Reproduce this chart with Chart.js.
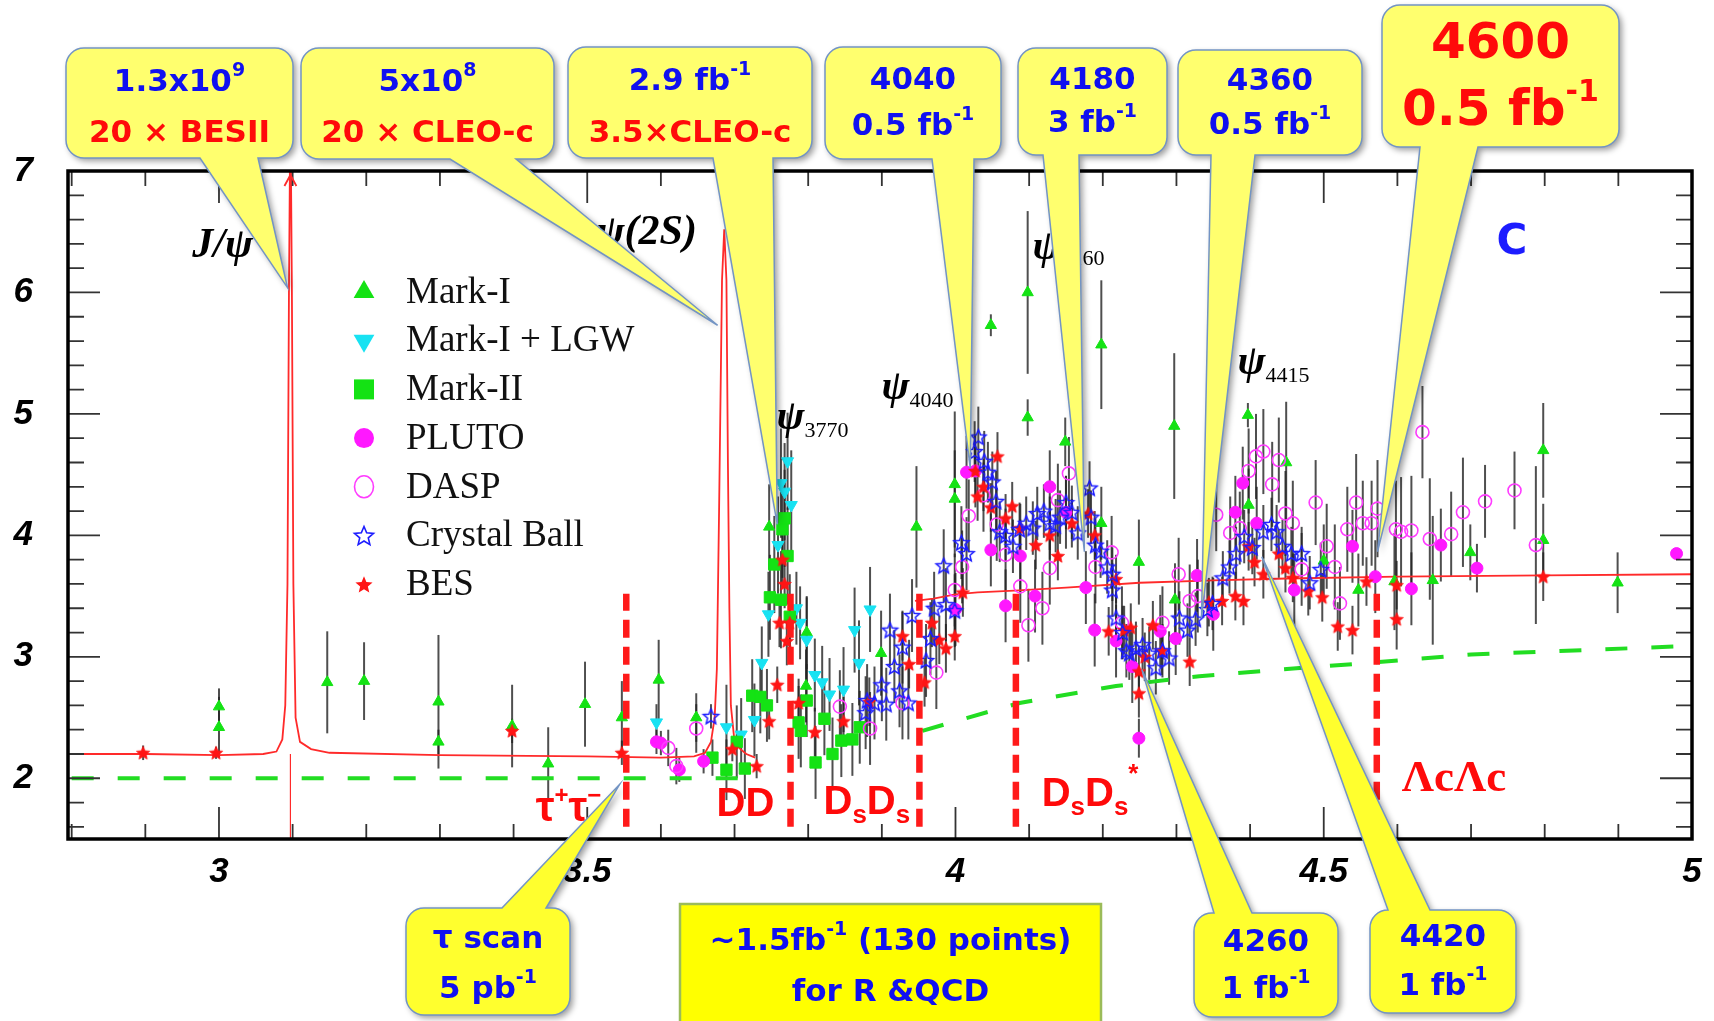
<!DOCTYPE html>
<html>
<head>
<meta charset="utf-8">
<title>R value scan</title>
<script src="https://cdn.jsdelivr.net/npm/chart.js@4.4.1/dist/chart.umd.min.js"></script>
<style>
  html, body { margin: 0; padding: 0; background: #fff; }
  #wrap { width: 1714px; height: 1021px; }
</style>
</head>
<body>
<div id="wrap"><canvas id="chart" width="1714" height="1021"></canvas></div>
<script>
// ========== AXES ==========
const xTickLabels = [3, 3.5, 4, 4.5, 5];
const yTickLabels = [2, 3, 4, 5, 6, 7];
const X_MIN = 2.795, X_MAX = 5.0, Y_MIN = 1.5, Y_MAX = 7.0;

// ========== DATA ==========
const markIx = [3.0, 3.0, 3.147, 3.197, 3.298, 3.298, 3.398, 3.447, 3.497, 3.547,
  3.597, 3.648, 3.747, 3.798, 3.797, 3.899, 3.947, 3.999, 3.999, 4.048,
  4.098, 4.098, 4.149, 4.198, 4.198, 4.249, 4.297, 4.298, 4.397, 4.398,
  4.449, 4.5, 4.547, 4.596, 4.648, 4.699, 4.798, 4.798, 4.899];
const markIy = [2.59, 2.42, 2.79, 2.80, 2.63, 2.30, 2.43, 2.12, 2.61, 2.50,
  2.81, 2.50, 4.07, 3.20, 2.76, 3.03, 4.07, 4.42, 4.30, 5.73,
  6.00, 4.97, 4.77, 5.57, 4.10, 3.78, 4.90, 3.47, 4.99, 4.25,
  4.60, 3.79, 3.55, 3.62, 3.63, 3.86, 4.70, 3.96, 3.61];
const markIerr = [0.15, 0.25, 0.42, 0.32, 0.55, 0.10, 0.34, 0.30, 0.35, 0.30,
  0.33, 0.20, 0.35, 0.30, 0.30, 0.35, 0.50, 0.60, 0.40, 0.09,
  0.67, 0.15, 0.20, 0.53, 0.30, 0.35, 0.60, 0.30, 0.10, 0.30,
  0.50, 0.30, 0.30, 0.40, 0.53, 0.23, 0.39, 0.30, 0.25];

const lgwX = [3.594, 3.689, 3.709, 3.727, 3.737, 3.746, 3.759, 3.763, 3.768, 3.772,
  3.777, 3.784, 3.789, 3.798, 3.809, 3.819, 3.829, 3.848, 3.863, 3.869, 3.884];
const lgwY = [2.46, 2.42, 2.36, 2.48, 2.95, 3.35, 3.92, 4.43, 4.36, 4.61,
  4.25, 3.40, 3.28, 3.14, 2.85, 2.79, 2.69, 2.73, 3.22, 2.95, 3.39];
const lgwErr = [0.15, 0.35, 0.30, 0.30, 0.30, 0.35, 0.40, 0.45, 0.40, 0.40,
  0.45, 0.30, 0.30, 0.35, 0.30, 0.30, 0.30, 0.35, 0.35, 0.35, 0.35];

const mk2X = [3.670, 3.689, 3.703, 3.714, 3.724, 3.735, 3.744, 3.748, 3.754, 3.763,
  3.765, 3.768, 3.772, 3.775, 3.787, 3.790, 3.798, 3.810, 3.822, 3.833,
  3.845, 3.860, 3.870];
const mk2Y = [2.17, 2.07, 2.30, 2.08, 2.68, 2.67, 2.60, 3.49, 3.76, 3.47,
  4.05, 4.14, 3.83, 3.33, 2.46, 2.39, 2.64, 2.13, 2.49, 2.20,
  2.31, 2.32, 2.42];
const mk2Err = [0.15, 0.25, 0.30, 0.25, 0.30, 0.30, 0.30, 0.35, 0.40, 0.40,
  0.40, 0.40, 0.40, 0.35, 0.30, 0.30, 0.30, 0.30, 0.30, 0.30,
  0.30, 0.30, 0.30];

const plutoX = [3.594, 3.600, 3.625, 3.658, 4.000, 4.015, 4.027, 4.048, 4.068, 4.088,
  4.108, 4.128, 4.150, 4.177, 4.189, 4.218, 4.240, 4.249, 4.278, 4.299,
  4.328, 4.350, 4.380, 4.390, 4.409, 4.460, 4.539, 4.570, 4.619, 4.659,
  4.708, 4.979];
const plutoY = [2.30, 2.29, 2.07, 2.14, 3.39, 4.52, 4.53, 3.88, 3.42, 3.83,
  3.50, 4.40, 4.19, 3.57, 3.22, 3.13, 2.92, 2.33, 3.21, 3.15,
  3.67, 3.35, 4.19, 4.43, 4.10, 3.55, 3.91, 3.66, 3.56, 3.92,
  3.73, 3.85];
const plutoErr = [0.10, 0.10, 0.10, 0.10, 0.30, 0.30, 0.30, 0.30, 0.30, 0.30,
  0.30, 0.30, 0.30, 0.30, 0.30, 0.30, 0.30, 0.16, 0.30, 0.30,
  0.30, 0.30, 0.30, 0.30, 0.30, 0.30, 0.30, 0.30, 0.30, 0.30,
  0.20, 0.00];

const daspX = [3.610, 3.621, 3.648, 3.843, 3.884, 3.928, 3.974, 3.999, 4.009, 4.018,
  4.038, 4.056, 4.068, 4.088, 4.099, 4.118, 4.128, 4.139, 4.154, 4.190,
  4.212, 4.226, 4.281, 4.303, 4.318, 4.329, 4.354, 4.373, 4.386, 4.398,
  4.408, 4.418, 4.430, 4.439, 4.448, 4.458, 4.470, 4.489, 4.504, 4.515,
  4.522, 4.532, 4.544, 4.553, 4.565, 4.573, 4.598, 4.605, 4.619, 4.634,
  4.644, 4.673, 4.689, 4.719, 4.759, 4.788];
const daspY = [2.25, 2.10, 2.41, 2.59, 2.41, 2.62, 2.87, 3.55, 3.74, 4.16,
  4.33, 4.09, 3.84, 3.58, 3.26, 3.40, 3.73, 4.29, 4.51, 3.74,
  3.86, 3.28, 3.28, 3.68, 3.46, 3.50, 4.17, 4.02, 4.06, 4.53,
  4.65, 4.69, 4.42, 4.62, 4.18, 4.10, 3.72, 4.27, 3.91, 3.74,
  3.44, 4.05, 4.27, 4.10, 4.10, 4.22, 4.05, 4.03, 4.04, 4.85,
  3.97, 4.01, 4.19, 4.28, 4.37, 3.92];
const daspErr = [0.15, 0.15, 0.20, 0.30, 0.30, 0.30, 0.30, 0.30, 0.30, 0.30,
  0.30, 0.30, 0.30, 0.30, 0.30, 0.30, 0.30, 0.30, 0.30, 0.30,
  0.30, 0.30, 0.30, 0.30, 0.30, 0.30, 0.30, 0.30, 0.30, 0.35,
  0.35, 0.35, 0.35, 0.35, 0.35, 0.35, 0.30, 0.35, 0.35, 0.35,
  0.30, 0.35, 0.40, 0.35, 0.35, 0.40, 0.40, 0.45, 0.45, 0.38,
  0.50, 0.35, 0.45, 0.30, 0.32, 0.65];

const cbX = [3.668, 3.878, 3.880, 3.890, 3.900, 3.906, 3.911, 3.917, 3.924, 3.928,
  3.936, 3.941, 3.960, 3.966, 3.971, 3.984, 3.987, 3.999, 4.008, 4.015,
  4.026, 4.031, 4.039, 4.044, 4.050, 4.055, 4.060, 4.068, 4.078, 4.087,
  4.096, 4.105, 4.111, 4.120, 4.128, 4.136, 4.142, 4.150, 4.158, 4.166,
  4.182, 4.184, 4.190, 4.197, 4.206, 4.213, 4.213, 4.218, 4.227, 4.232,
  4.236, 4.245, 4.254, 4.263, 4.272, 4.281, 4.290, 4.304, 4.315, 4.326,
  4.342, 4.349, 4.363, 4.372, 4.381, 4.392, 4.403, 4.418, 4.429, 4.436,
  4.444, 4.456, 4.470, 4.481, 4.496];
const cbY = [2.51, 2.54, 2.64, 2.62, 2.77, 2.61, 3.22, 2.92, 2.72, 3.08,
  2.62, 3.34, 2.97, 3.15, 3.40, 3.75, 3.43, 3.38, 3.94, 3.85,
  4.69, 4.81, 4.61, 4.52, 4.44, 4.28, 4.03, 4.00, 3.91, 4.05,
  4.10, 4.06, 4.18, 4.20, 4.10, 4.08, 4.15, 4.27, 4.19, 4.02,
  4.39, 4.15, 3.92, 3.87, 3.74, 3.68, 3.55, 3.32, 3.20, 3.05,
  3.03, 3.07, 3.10, 3.03, 2.91, 3.05, 2.99, 3.32, 3.22, 3.31,
  3.39, 3.44, 3.65, 3.74, 3.85, 3.99, 3.90, 4.03, 4.09, 4.03,
  3.91, 3.85, 3.85, 3.61, 3.72];
const cbErr = [0.10, 0.30, 0.30, 0.30, 0.30, 0.30, 0.30, 0.30, 0.30, 0.30,
  0.30, 0.30, 0.30, 0.30, 0.30, 0.30, 0.30, 0.30, 0.30, 0.30,
  0.25, 0.25, 0.25, 0.25, 0.25, 0.25, 0.25, 0.22, 0.22, 0.22,
  0.22, 0.22, 0.22, 0.22, 0.22, 0.22, 0.22, 0.22, 0.22, 0.22,
  0.22, 0.22, 0.22, 0.22, 0.22, 0.22, 0.22, 0.22, 0.22, 0.22,
  0.22, 0.22, 0.22, 0.22, 0.22, 0.22, 0.22, 0.22, 0.22, 0.22,
  0.22, 0.22, 0.22, 0.22, 0.22, 0.22, 0.22, 0.22, 0.22, 0.22,
  0.22, 0.22, 0.22, 0.22, 0.22];

const besX = [2.897, 2.996, 3.398, 3.547, 3.697, 3.730, 3.747, 3.758, 3.761, 3.765,
  3.768, 3.771, 3.775, 3.787, 3.809, 3.848, 3.883, 3.928, 3.937, 3.958,
  3.968, 3.978, 3.987, 3.999, 4.010, 4.027, 4.030, 4.038, 4.048, 4.057,
  4.068, 4.077, 4.088, 4.109, 4.128, 4.139, 4.158, 4.180, 4.189, 4.208,
  4.218, 4.229, 4.238, 4.249, 4.249, 4.257, 4.268, 4.280, 4.318, 4.344,
  4.362, 4.380, 4.391, 4.398, 4.406, 4.418, 4.439, 4.448, 4.458, 4.479,
  4.498, 4.519, 4.539, 4.558, 4.599, 4.599, 4.798];
const besY = [2.21, 2.21, 2.39, 2.21, 2.24, 2.10, 2.47, 2.77, 3.28, 3.80,
  3.60, 3.13, 3.28, 2.62, 2.38, 2.47, 2.63, 3.17, 2.94, 2.79,
  3.28, 3.14, 3.07, 3.17, 3.53, 4.53, 4.32, 4.40, 4.23, 4.65,
  4.14, 4.24, 4.06, 3.92, 4.00, 3.83, 4.10, 4.18, 4.00, 3.21,
  3.64, 3.22, 3.24, 2.88, 2.70, 3.00, 3.26, 3.05, 2.96, 3.45,
  3.46, 3.50, 3.46, 3.91, 3.78, 3.68, 3.85, 3.73, 3.65, 3.54,
  3.49, 3.25, 3.22, 3.62, 3.59, 3.31, 3.66];
const besErr = [0.06, 0.05, 0.10, 0.10, 0.10, 0.10, 0.15, 0.15, 0.20, 0.20,
  0.20, 0.20, 0.20, 0.20, 0.20, 0.20, 0.20, 0.20, 0.20, 0.20,
  0.20, 0.20, 0.20, 0.20, 0.20, 0.20, 0.20, 0.20, 0.20, 0.20,
  0.20, 0.20, 0.20, 0.20, 0.20, 0.20, 0.20, 0.20, 0.20, 0.20,
  0.20, 0.20, 0.20, 0.20, 0.20, 0.20, 0.20, 0.20, 0.20, 0.20,
  0.20, 0.20, 0.20, 0.20, 0.20, 0.20, 0.20, 0.20, 0.20, 0.20,
  0.20, 0.20, 0.20, 0.20, 0.20, 0.25, 0.20];

// fitted R curve with the J/psi and psi(2S) peaks
const rLowX = [2.80, 2.90, 3.00, 3.06, 3.078, 3.086, 3.090, 3.093, 3.095, 3.097,
  3.099, 3.101, 3.104, 3.110, 3.125, 3.15, 3.30, 3.50, 3.60, 3.645,
  3.660, 3.668, 3.673, 3.676, 3.679, 3.683, 3.686, 3.689, 3.691, 3.693,
  3.695, 3.700, 3.708, 3.716, 3.728];
const rLowY = [2.20, 2.20, 2.19, 2.20, 2.22, 2.32, 2.60, 3.60, 6.00, 7.60,
  6.00, 3.60, 2.50, 2.30, 2.24, 2.21, 2.19, 2.18, 2.17, 2.18,
  2.21, 2.30, 2.50, 2.90, 4.20, 6.10, 6.52, 6.10, 4.60, 3.40,
  2.60, 2.30, 2.24, 2.20, 2.17];
const rHighX = [3.945, 3.97, 4.00, 4.03, 4.08, 4.15, 4.25, 4.35, 4.45, 4.60, 4.80, 5.00];
const rHighY = [3.46, 3.48, 3.515, 3.53, 3.545, 3.57, 3.61, 3.63, 3.645, 3.66, 3.67, 3.68];
const jpsiX = 3.097;

// pQCD expectation (green dashed)
const qcdLowX = [2.80, 3.72];
const qcdLowY = [2.00, 2.00];
const qcdHighX = [3.955, 4.00, 4.087, 4.218, 4.331, 4.45, 4.539, 4.70, 5.00];
const qcdHighY = [2.39, 2.47, 2.62, 2.76, 2.84, 2.90, 2.94, 3.02, 3.09];

// open-charm / tau thresholds (red dashed)
const thresholdX = [3.553, 3.776, 3.951, 4.082, 4.572];
const thresholdTop = 3.52, thresholdBottom = 1.6;

// ========== STYLE ==========
const GREEN = '#14e214', CYAN = '#18e2f2', MAGENTA = '#ff18ff', BLUE = '#1c1cff', RED = '#ff1414';
const TXT_BLUE = '#1010f0', TXT_RED = '#ff0a0a';
const ERR_COLOR = 'rgba(35,35,35,0.8)';

function pts(xs, ys) {
  return xs.map((x, i) => ({ x: x, y: ys[i] }));
}

function starPath(g, cx, cy, R, k) {
  g.beginPath();
  for (let i = 0; i < 10; i++) {
    const r = i % 2 ? R * k : R;
    const a = -Math.PI / 2 + i * Math.PI / 5;
    g.lineTo(cx + r * Math.cos(a), cy + r * Math.sin(a));
  }
  g.closePath();
}

function starCanvas(R, fill, stroke, lw) {
  const s = Math.ceil(2 * R + 2 * lw + 2);
  const c = document.createElement('canvas');
  c.width = s; c.height = s;
  const g = c.getContext('2d');
  starPath(g, s / 2, s / 2 + R * 0.08, R, 0.45);
  if (fill) { g.fillStyle = fill; g.fill(); }
  if (stroke) { g.strokeStyle = stroke; g.lineWidth = lw; g.stroke(); }
  return c;
}

const openStar = starCanvas(8, null, BLUE, 1.5);
const redStar = starCanvas(7, RED, RED, 0.8);

// ========== DATASETS ==========
function lineSet(xs, ys, color, width, dash, order) {
  return {
    data: pts(xs, ys), showLine: true, pointRadius: 0, borderColor: color,
    borderWidth: width, borderDash: dash || [], tension: 0, order: order
  };
}

const datasets = [];
thresholdX.forEach(x => {
  datasets.push(lineSet([x, x], [thresholdBottom, thresholdTop], '#ff1a1a', 6.5, [18, 9], 0));
});
datasets.push(lineSet(rLowX, rLowY, '#ff2a2a', 1.8, null, 12));
datasets.push(lineSet(rHighX, rHighY, '#ff2a2a', 1.8, null, 12));
datasets.push(lineSet([jpsiX, jpsiX], [Y_MIN, 2.2], '#ff2a2a', 1.2, null, 12));
datasets.push(lineSet(qcdLowX, qcdLowY, '#22dd22', 4, [22, 24], 11));
datasets.push(lineSet(qcdHighX, qcdHighY, '#22dd22', 4, [22, 24], 11));

const series = [
  { label: 'Mark-I', marker: 'tri', data: pts(markIx, markIy), errs: markIerr,
    pointStyle: 'triangle', pointRadius: 6.5, backgroundColor: GREEN, borderColor: GREEN, borderWidth: 1, order: 6 },
  { label: 'Mark-I + LGW', marker: 'triDown', data: pts(lgwX, lgwY), errs: lgwErr,
    pointStyle: 'triangle', rotation: 180, pointRadius: 7, backgroundColor: CYAN, borderColor: CYAN, borderWidth: 1, order: 5 },
  { label: 'Mark-II', marker: 'square', data: pts(mk2X, mk2Y), errs: mk2Err,
    pointStyle: 'rect', pointRadius: 8, backgroundColor: GREEN, borderColor: GREEN, borderWidth: 1, order: 4 },
  { label: 'PLUTO', marker: 'dot', data: pts(plutoX, plutoY), errs: plutoErr,
    pointStyle: 'circle', pointRadius: 6, backgroundColor: MAGENTA, borderColor: MAGENTA, borderWidth: 1, order: 3 },
  { label: 'DASP', marker: 'ring', data: pts(daspX, daspY), errs: daspErr,
    pointStyle: 'circle', pointRadius: 6.5, backgroundColor: 'rgba(255,255,255,0)', borderColor: '#ff3cff', borderWidth: 1.6, order: 2 },
  { label: 'Crystal Ball', marker: 'starOpen', data: pts(cbX, cbY), errs: cbErr,
    pointStyle: openStar, pointRadius: 8, order: 1 },
  { label: 'BES', marker: 'starFilled', data: pts(besX, besY), errs: besErr,
    pointStyle: redStar, pointRadius: 7, order: 1 }
];
series.forEach(s => datasets.push(s));

// ========== ANNOTATIONS ==========
const PSI = 'italic bold 42px "Liberation Serif"';
const SUB = '22px "Liberation Serif"';
const RL = n => 'bold ' + n + 'px "Liberation Sans"';

const plotNotes = [
  { x: 3.005, y: 6.29, align: 'center', color: '#000', runs: [['J/ψ', PSI, 0]] },
  { x: 3.5126, y: 6.40, align: 'left', color: '#000', runs: [['ψ(2S)', PSI, 0]] },
  { x: 3.757, y: 4.876, align: 'left', color: '#000', runs: [['ψ', PSI, 0], ['3770', SUB, 8]] },
  { x: 3.8995, y: 5.122, align: 'left', color: '#000', runs: [['ψ', PSI, 0], ['4040', SUB, 8]] },
  { x: 4.1045, y: 6.273, align: 'left', color: '#000', runs: [['ψ', PSI, 0], ['4160', SUB, 6]] },
  { x: 4.3829, y: 5.328, align: 'left', color: '#000', runs: [['ψ', PSI, 0], ['4415', SUB, 8]] },
  { x: 4.7345, y: 6.32, align: 'left', color: BLUE, runs: [['C', 'bold 42px "DejaVu Sans"', 0]] },
  { x: 3.430, y: 1.647, align: 'left', color: TXT_RED,
    runs: [['τ', RL(42), 0], ['+', RL(24), -18], ['τ', RL(42), 0], ['−', RL(24), -18]] },
  { x: 3.6755, y: 1.688, align: 'left', color: TXT_RED, runs: [['DD', RL(40), 0]] },
  { x: 3.8208, y: 1.704, align: 'left', color: TXT_RED,
    runs: [['D', RL(40), 0], ['s', RL(26), 9], ['D', RL(40), 0], ['s', RL(26), 9]] },
  { x: 4.117, y: 1.77, align: 'left', color: TXT_RED,
    runs: [['D', RL(40), 0], ['s', RL(26), 9], ['D', RL(40), 0], ['s', RL(26), 9], ['*', RL(26), -24]] },
  { x: 4.606, y: 1.893, align: 'left', color: TXT_RED, runs: [['ΛcΛc', 'bold 45px "Liberation Serif"', 0]] }
];

// callout boxes: pixel boxes, pointer tips in data units
const callouts = [
  { box: [66, 48, 293, 158], side: 'bottom', base: [200, 258], tip: [3.093, 6.04], size: 31,
    lines: [['1.3x10^9', TXT_BLUE, 83], ['20 × BESII', TXT_RED, 134]] },
  { box: [301, 48, 554, 159], side: 'bottom', base: [450, 516], tip: [3.677, 5.73], size: 31,
    lines: [['5x10^8', TXT_BLUE, 83], ['20 × CLEO-c', TXT_RED, 134]] },
  { box: [568, 47, 812, 158], side: 'bottom', base: [713, 773], tip: [3.758, 4.09], size: 31,
    lines: [['2.9 fb^-1', TXT_BLUE, 82], ['3.5×CLEO-c', TXT_RED, 134]] },
  { box: [825, 47, 1001, 159], side: 'bottom', base: [932, 974], tip: [4.02, 4.555], size: 31,
    lines: [['4040', TXT_BLUE, 81], ['0.5 fb^-1', TXT_BLUE, 127]] },
  { box: [1018, 48, 1167, 155], side: 'bottom', base: [1043, 1079], tip: [4.175, 3.865], size: 31,
    lines: [['4180', TXT_BLUE, 81], ['3 fb^-1', TXT_BLUE, 124]] },
  { box: [1178, 50, 1362, 155], side: 'bottom', base: [1211, 1255], tip: [4.334, 3.32], size: 31,
    lines: [['4360', TXT_BLUE, 82], ['0.5 fb^-1', TXT_BLUE, 126]] },
  { box: [1382, 5, 1619, 147], side: 'bottom', base: [1420, 1478], tip: [4.573, 3.865], size: 50,
    lines: [['4600', TXT_RED, 45], ['0.5 fb^-1', TXT_RED, 112]] },
  { box: [406, 908, 570, 1015], side: 'top', base: [502, 546], tip: [3.544, 1.95], size: 31, bright: true,
    lines: [['τ scan', TXT_BLUE, 940], ['5 pb^-1', TXT_BLUE, 990]] },
  { box: [1194, 913, 1338, 1017], side: 'top', base: [1214, 1252], tip: [4.253, 2.896], size: 31, bright: true,
    lines: [['4260', TXT_BLUE, 943], ['1 fb^-1', TXT_BLUE, 990]] },
  { box: [1370, 910, 1516, 1013], side: 'top', base: [1388, 1430], tip: [4.416, 3.824], size: 31, bright: true,
    lines: [['4420', TXT_BLUE, 938], ['1 fb^-1', TXT_BLUE, 987]] }
];
const scanBox = { box: [680, 904, 1101, 1030], size: 31,
  lines: [['~1.5fb^-1 (130 points)', TXT_BLUE, 942], ['for R &QCD', TXT_BLUE, 993]] };

// ========== DRAWING HELPERS ==========
function parseRuns(s, size, color) {
  const main = 'bold ' + size + 'px "DejaVu Sans"';
  const sup = 'bold ' + Math.round(size * 0.6) + 'px "DejaVu Sans"';
  const out = [];
  const re = /\^(\S+)/g;
  let last = 0, m;
  while ((m = re.exec(s))) {
    if (m.index > last) out.push([s.slice(last, m.index), main, 0]);
    out.push([m[1], sup, -Math.round(size * 0.38)]);
    last = re.lastIndex;
  }
  if (last < s.length) out.push([s.slice(last), main, 0]);
  return out;
}

function drawRuns(ctx, runs, x, y, align, color) {
  let total = 0;
  runs.forEach(r => { ctx.font = r[1]; total += ctx.measureText(r[0]).width; });
  let cur = align === 'center' ? x - total / 2 : x;
  ctx.fillStyle = color;
  ctx.textAlign = 'left';
  runs.forEach(r => {
    ctx.font = r[1];
    ctx.fillText(r[0], cur, y + r[2]);
    cur += ctx.measureText(r[0]).width;
  });
}

function calloutPath(ctx, c, tip) {
  const [x0, y0, x1, y1] = c.box;
  const r = 18;
  ctx.beginPath();
  ctx.moveTo(x0 + r, y0);
  if (c.side === 'top') {
    ctx.lineTo(c.base[0], y0); ctx.lineTo(tip.x, tip.y); ctx.lineTo(c.base[1], y0);
  }
  ctx.lineTo(x1 - r, y0);
  ctx.arcTo(x1, y0, x1, y0 + r, r);
  ctx.lineTo(x1, y1 - r);
  ctx.arcTo(x1, y1, x1 - r, y1, r);
  if (c.side === 'bottom') {
    ctx.lineTo(c.base[1], y1); ctx.lineTo(tip.x, tip.y); ctx.lineTo(c.base[0], y1);
  }
  ctx.lineTo(x0 + r, y1);
  ctx.arcTo(x0, y1, x0, y1 - r, r);
  ctx.lineTo(x0, y0 + r);
  ctx.arcTo(x0, y0, x0 + r, y0, r);
  ctx.closePath();
}

function drawMarker(ctx, kind, x, y) {
  ctx.save();
  ctx.beginPath();
  if (kind === 'tri' || kind === 'triDown') {
    const R = 12, s = kind === 'tri' ? 1 : -1;
    ctx.moveTo(x, y - s * R);
    ctx.lineTo(x + R * 0.866, y + s * R * 0.5);
    ctx.lineTo(x - R * 0.866, y + s * R * 0.5);
    ctx.closePath();
    ctx.fillStyle = kind === 'tri' ? GREEN : CYAN;
    ctx.fill();
  } else if (kind === 'square') {
    ctx.fillStyle = GREEN;
    ctx.fillRect(x - 10, y - 10, 20, 20);
  } else if (kind === 'dot') {
    ctx.arc(x, y, 10, 0, Math.PI * 2);
    ctx.fillStyle = MAGENTA;
    ctx.fill();
  } else if (kind === 'ring') {
    ctx.ellipse(x, y, 9.5, 11, 0, 0, Math.PI * 2);
    ctx.strokeStyle = '#ff3cff';
    ctx.lineWidth = 1.6;
    ctx.stroke();
  } else if (kind === 'starOpen') {
    starPath(ctx, x, y + 1, 10, 0.45);
    ctx.strokeStyle = BLUE; ctx.lineWidth = 1.6; ctx.stroke();
  } else if (kind === 'starFilled') {
    starPath(ctx, x, y + 1, 9, 0.45);
    ctx.fillStyle = RED; ctx.fill();
  }
  ctx.restore();
}

// ========== PLUGIN ==========
const decorPlugin = {
  id: 'decor',
  beforeDatasetsDraw(chart) {
    const ctx = chart.ctx, ca = chart.chartArea, xs = chart.scales.x, ys = chart.scales.y;
    ctx.save();
    ctx.beginPath();
    ctx.rect(ca.left, ca.top, ca.right - ca.left, ca.bottom - ca.top);
    ctx.clip();
    ctx.strokeStyle = ERR_COLOR;
    ctx.lineWidth = 2;
    chart.data.datasets.forEach(ds => {
      if (!ds.errs) return;
      ds.data.forEach((p, j) => {
        const e = ds.errs[j];
        if (!e) return;
        const px = xs.getPixelForValue(p.x);
        ctx.beginPath();
        ctx.moveTo(px, ys.getPixelForValue(p.y - e));
        ctx.lineTo(px, ys.getPixelForValue(p.y + e));
        ctx.stroke();
      });
    });
    ctx.restore();
  },
  afterDatasetsDraw(chart) {
    const ctx = chart.ctx, ca = chart.chartArea, xs = chart.scales.x, ys = chart.scales.y;
    ctx.save();

    // inward tick marks on all four sides
    ctx.strokeStyle = '#333';
    ctx.lineWidth = 1.8;
    for (let i = 28; i <= 50; i++) {
      const v = i / 10, px = xs.getPixelForValue(v);
      const len = i % 5 === 0 ? 32 : 15;
      ctx.beginPath();
      ctx.moveTo(px, ca.bottom); ctx.lineTo(px, ca.bottom - len);
      ctx.moveTo(px, ca.top); ctx.lineTo(px, ca.top + len);
      ctx.stroke();
    }
    for (let i = 8; i <= 35; i++) {
      const v = i / 5, py = ys.getPixelForValue(v);
      const len = i % 5 === 0 ? 32 : 16;
      ctx.beginPath();
      ctx.moveTo(ca.left, py); ctx.lineTo(ca.left + len, py);
      ctx.moveTo(ca.right, py); ctx.lineTo(ca.right - len, py);
      ctx.stroke();
    }
    ctx.strokeStyle = '#000';
    ctx.lineWidth = 3.5;
    ctx.strokeRect(ca.left, ca.top, ca.right - ca.left, ca.bottom - ca.top);

    // arrow on top of the J/psi peak
    const jx = xs.getPixelForValue(jpsiX);
    ctx.strokeStyle = '#ff2a2a';
    ctx.lineWidth = 1.8;
    ctx.beginPath();
    ctx.moveTo(jx - 6, ca.top + 15); ctx.lineTo(jx, ca.top + 4); ctx.lineTo(jx + 6, ca.top + 15);
    ctx.stroke();

    // text labels inside the frame
    ctx.textBaseline = 'alphabetic';
    plotNotes.forEach(n => {
      drawRuns(ctx, n.runs, xs.getPixelForValue(n.x), ys.getPixelForValue(n.y), n.align, n.color);
    });

    // legend
    ctx.textBaseline = 'middle';
    series.forEach((s, i) => {
      const y = 292 + i * 48.7;
      drawMarker(ctx, s.marker, 364, y);
      ctx.font = '37px "Liberation Serif"';
      ctx.fillStyle = '#111';
      ctx.textAlign = 'left';
      ctx.fillText(s.label, 406, y + 1);
    });
    ctx.restore();
  },
  afterDraw(chart) {
    const ctx = chart.ctx, xs = chart.scales.x, ys = chart.scales.y;
    ctx.save();
    ctx.textBaseline = 'middle';

    // plain yellow box of the R scan
    const b = scanBox.box;
    ctx.fillStyle = '#ffff00';
    ctx.fillRect(b[0], b[1], b[2] - b[0], b[3] - b[1]);
    ctx.strokeStyle = '#9bbb59';
    ctx.lineWidth = 2.5;
    ctx.strokeRect(b[0], b[1], b[2] - b[0], b[3] - b[1]);
    scanBox.lines.forEach(l => {
      drawRuns(ctx, parseRuns(l[0], scanBox.size, l[1]), (b[0] + b[2]) / 2, l[2], 'center', l[1]);
    });

    callouts.forEach(c => {
      const tip = { x: xs.getPixelForValue(c.tip[0]), y: ys.getPixelForValue(c.tip[1]) };
      ctx.save();
      ctx.shadowColor = 'rgba(0,0,0,0.4)';
      ctx.shadowBlur = 6;
      ctx.shadowOffsetX = 3;
      ctx.shadowOffsetY = 3;
      calloutPath(ctx, c, tip);
      ctx.fillStyle = c.bright ? '#ffff2e' : '#ffff6e';
      ctx.fill();
      ctx.restore();
      calloutPath(ctx, c, tip);
      ctx.strokeStyle = '#7394c4';
      ctx.lineWidth = 1.5;
      ctx.stroke();
      const cx = (c.box[0] + c.box[2]) / 2;
      c.lines.forEach(l => {
        drawRuns(ctx, parseRuns(l[0], c.size, l[1]), cx, l[2], 'center', l[1]);
      });
    });
    ctx.restore();
  }
};

// ========== CHART ==========
const tickFont = { family: 'Liberation Sans', size: 35, style: 'italic', weight: 'bold' };

new Chart(document.getElementById('chart'), {
  type: 'scatter',
  data: { datasets: datasets },
  options: {
    responsive: false,
    animation: false,
    devicePixelRatio: 1,
    events: [],
    layout: { padding: { left: 0, right: 22, top: 171, bottom: 122 } },
    plugins: { legend: { display: false }, tooltip: { enabled: false } },
    scales: {
      x: {
        type: 'linear', min: X_MIN, max: X_MAX,
        grid: { display: false, drawTicks: false },
        border: { display: false },
        afterBuildTicks: s => { s.ticks = xTickLabels.map(v => ({ value: v })); },
        afterFit: s => { s.height = 60; },
        ticks: { font: tickFont, color: '#000', padding: 12, maxRotation: 0, autoSkip: false,
          callback: v => String(v) }
      },
      y: {
        type: 'linear', min: Y_MIN, max: Y_MAX,
        grid: { display: false, drawTicks: false },
        border: { display: false },
        afterBuildTicks: s => { s.ticks = yTickLabels.map(v => ({ value: v })); },
        afterFit: s => { s.width = 68; },
        ticks: { font: tickFont, color: '#000', padding: 35, autoSkip: false,
          callback: v => String(v) }
      }
    }
  },
  plugins: [decorPlugin]
});
</script>
</body>
</html>
